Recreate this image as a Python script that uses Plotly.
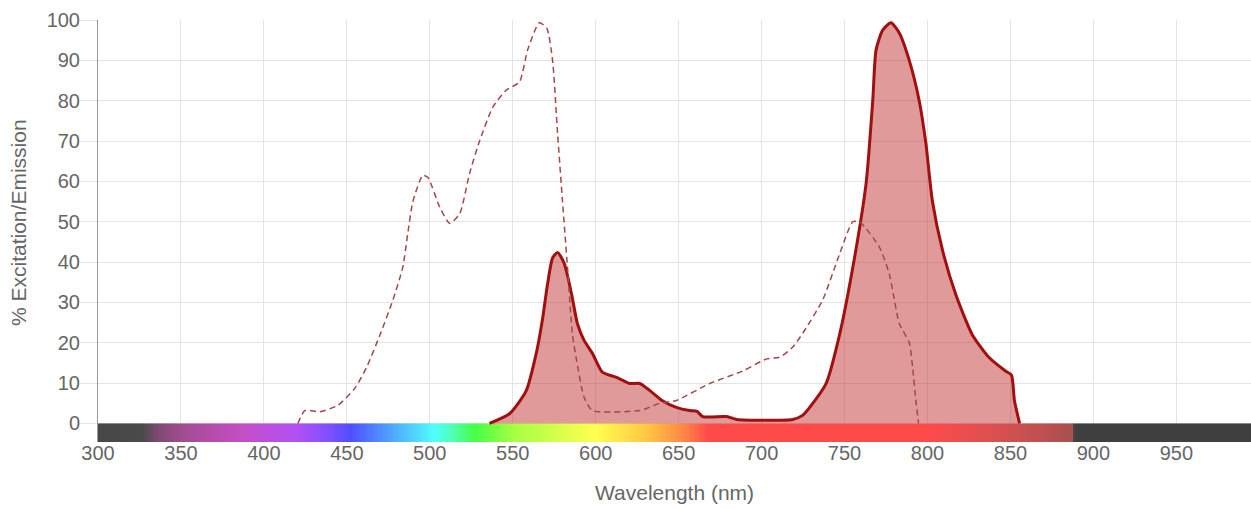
import numpy as np
import plotly.graph_objects as go

# Excitation spectrum (dashed)
ex_nm = [420.5, 424.7, 433.7, 444.6, 454.8, 462, 470, 477.7, 483.7, 486.7, 489.8, 495.8, 498.8,
         506, 512, 518, 524, 530, 538, 546, 554, 559, 566, 570.5, 574, 577, 580, 583, 586,
         588.5, 593, 598, 626.5, 632.5, 638.5, 648.6, 668.7, 688.6, 703, 710.8, 718.7, 724.7,
         736.7, 747, 755, 759, 771, 777, 783, 789, 791, 793, 794.6]
ex_val = [0, 3.2, 2.9, 4.5, 8.7, 14, 22, 30.5, 38.7, 47, 55, 61.5, 61,
          53.6, 49.6, 52, 62, 70, 78.4, 82.6, 84.6, 92.6, 99.3, 98, 90, 72, 55, 38.7, 22,
          15.6, 6.5, 3.2, 3.2, 4, 5, 5.7, 9.9, 13, 16, 16.4, 18.9, 22.3,
          30.5, 42, 50, 50, 43.7, 37, 24.8, 20, 14, 5.7, 0]

# Emission spectrum (solid, filled)
em_nm = [536, 548, 558, 564.5, 568, 571, 574, 577, 581, 585.5, 589, 593, 598, 604, 612.6,
         620.5, 626.5, 632.5, 640, 648.6, 656.6, 661, 664.5, 679, 685, 718.7, 724.7, 729,
         739, 747, 755, 763, 767, 769, 773, 778, 783, 789, 795, 799, 803, 809, 817, 827,
         837, 847, 850.6, 852.4, 855.5]
em_val = [0, 2.4, 8, 18, 26, 34.6, 41, 42.4, 39.7, 32, 24.7, 20.6, 17.4, 12.7, 11.4,
          9.9, 9.9, 8.2, 5.7, 4, 3.2, 3, 1.7, 1.7, 1, 1, 2, 4,
          10, 22, 38.7, 59.5, 80, 92.6, 97.5, 99.3, 96.8, 90, 80, 69.5, 55, 43, 32, 22,
          16.4, 13, 12, 5.7, 0]

# Visible-spectrum colour bar stops (wavelength -> colour)
spec_nm = [300, 327, 336, 350, 387, 421, 440, 452, 478, 503, 515, 527, 550, 600, 632, 652,
           668, 800, 840, 870, 888, 888.6, 995]
spec_col = ["#474747", "#4a4a4a", "#7c4a70", "#a04c90", "#c64ec6", "#b050f6", "#7c50ff",
            "#4e4eff", "#50a8ff", "#50ffff", "#50ffa8", "#44ff44", "#a4ff44", "#ffff50",
            "#ffc444", "#ff8a44", "#ff4a4a", "#ff4a4a", "#dc5050", "#bc5050", "#a85050",
            "#404040", "#404040"]

x_ticks = list(range(300, 1000, 50))
y_ticks = list(range(0, 101, 10))

xmin, xmax = 300, 995
ymin = -4.6
cs = [[(w - xmin) / (xmax - xmin), c] for w, c in zip(spec_nm, spec_col)]
edges = np.arange(xmin, xmax + 1, 1.0)
centers = (edges[:-1] + edges[1:]) / 2

fig = go.Figure()
fig.add_trace(go.Heatmap(x=edges, y=[ymin, 0], z=[centers], colorscale=cs,
                         zmin=xmin, zmax=xmax, showscale=False, hoverinfo="skip"))
fig.add_trace(go.Scatter(x=em_nm, y=em_val, mode="lines", fill="tozeroy",
                         fillcolor="rgba(192,40,40,0.47)",
                         line=dict(color="#a01010", width=3, shape="spline", smoothing=0.6),
                         name="Emission", hoverinfo="skip"))
fig.add_trace(go.Scatter(x=ex_nm, y=ex_val, mode="lines",
                         line=dict(color="#a34848", width=1.5, dash="6px,4px", shape="spline", smoothing=0.6),
                         name="Excitation", hoverinfo="skip"))

tick_font = dict(family="Liberation Sans, Arial, sans-serif", size=20, color="#666666")
title_font = dict(family="Liberation Sans, Arial, sans-serif", size=21, color="#666666")
fig.update_layout(
    width=1251, height=509,
    margin=dict(l=98, r=0, t=20, b=67, autoexpand=False),
    plot_bgcolor="white", paper_bgcolor="white",
    showlegend=False, font=tick_font,
    xaxis=dict(range=[xmin, xmax], tickvals=x_ticks, showgrid=True, gridcolor="#e4e4e4",
               gridwidth=1, zeroline=False, showline=False, ticks="", tickfont=tick_font,
               automargin=False, ticklabelstandoff=-3),
    yaxis=dict(range=[ymin, 100], tickvals=y_ticks, showgrid=True, gridcolor="#e4e4e4",
               gridwidth=1, zeroline=False, showline=True, linecolor="#9a9a9a", linewidth=1,
               ticks="outside", ticklen=17, tickcolor="#e4e4e4", tickfont=tick_font,
               automargin=False, ticklabelstandoff=-4),
    annotations=[
        dict(text="Wavelength (nm)", xref="paper", yref="paper", x=0.5, y=-0.1185,
             xanchor="center", yanchor="middle", showarrow=False, font=title_font),
        dict(text="% Excitation/Emission", xref="paper", yref="paper", x=-0.069, y=0.52,
             xanchor="center", yanchor="middle", showarrow=False, textangle=-90, font=title_font),
    ],
)
fig.write_html(
    "out.html",
    config={"responsive": False, "displayModeBar": False},
    post_script="document.body.style.margin='0';document.body.style.overflow='hidden';",
)
